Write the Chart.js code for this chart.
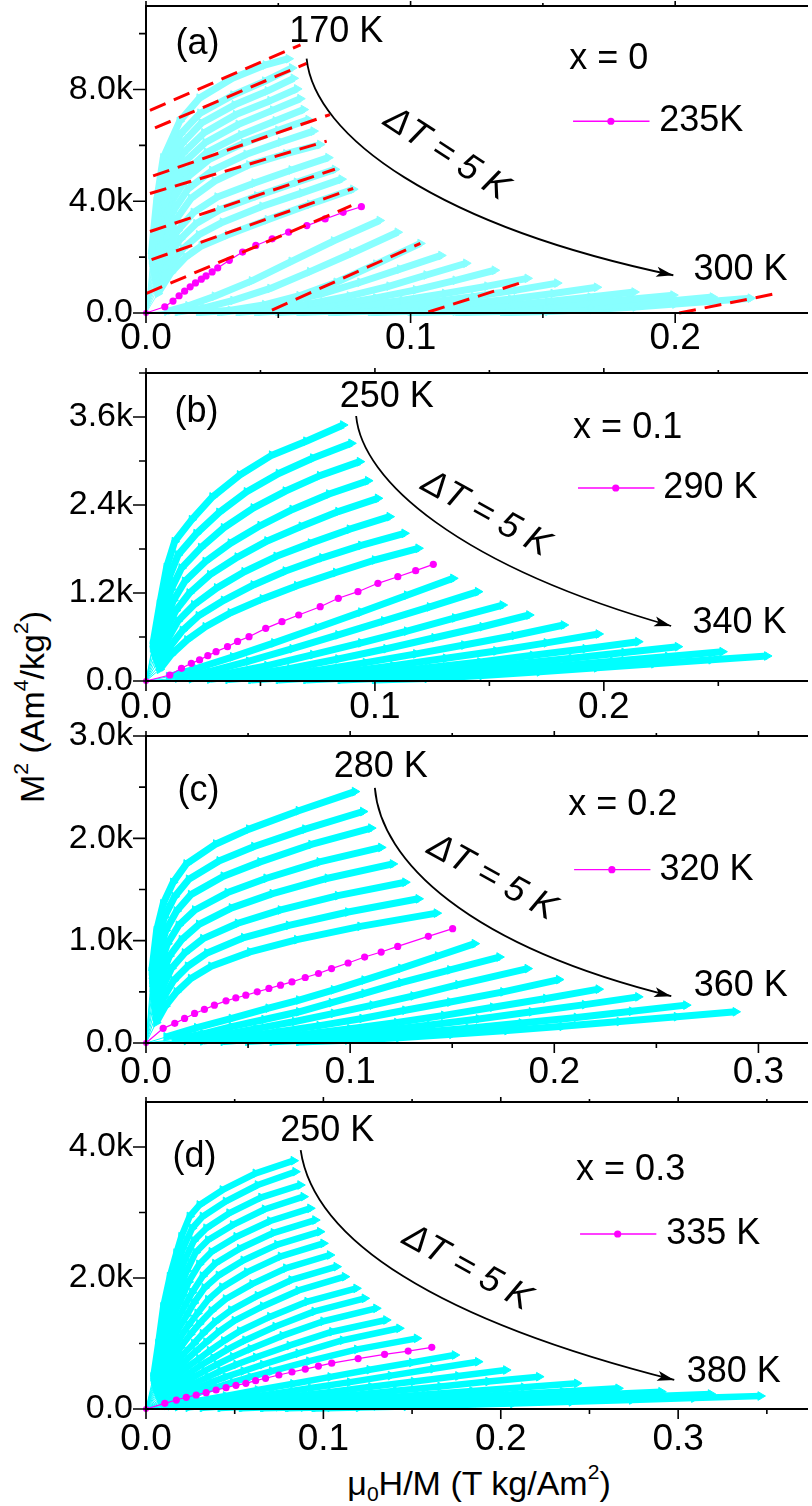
<!DOCTYPE html>
<html>
<head>
<meta charset="utf-8">
<script src="https://cdn.jsdelivr.net/npm/chart.js@4.4.0/dist/chart.umd.min.js"></script>
<style>
html,body{margin:0;padding:0;background:#fff;}
body{width:812px;height:1506px;position:relative;overflow:hidden;font-family:"Liberation Sans",Arial,sans-serif;color:#000;}
canvas{position:absolute;left:0;}
.ytitle{position:absolute;left:32px;top:707px;transform:translate(-50%,-50%) rotate(-90deg);font-size:34px;white-space:nowrap;line-height:1;}
.xtitle{position:absolute;left:479px;top:1483px;transform:translate(-50%,-50%);font-size:34px;white-space:nowrap;line-height:1;}
.ytitle sup,.xtitle sup{font-size:62%;vertical-align:0.75em;line-height:0;}
.xtitle sub{font-size:62%;vertical-align:-0.3em;line-height:0;}
</style>
</head>
<body>
<div class="ytitle">M<sup>2</sup> (Am<sup>4</sup>/kg<sup>2</sup>)</div>
<div class="xtitle">&mu;<sub>0</sub>H/M (T kg/Am<sup>2</sup>)</div>
<script>
const FONT = "'Liberation Sans', Arial, sans-serif";

// ---------------- Panel (a): x = 0 ----------------
const tempsA = [170,175,180,185,190,195,200,205,210,215,220,225,230,235,240,245,250,255,260,265,270,275,280,285,290,295,300];
const highlightA = 235;
const curvesA = [
 [[0,0],[0.0020,2100],[0.0040,4000],[0.0065,5550],[0.0127,6860],[0.0202,7690],[0.0327,8400],[0.0452,8880],[0.0539,9100]],
 [[0,0],[0.0022,1900],[0.0045,3800],[0.0070,5100],[0.0130,6400],[0.0205,7150],[0.0330,7800],[0.0450,8300],[0.0552,8770]],
 [[0,0],[0.0024,1800],[0.0048,3600],[0.0075,4850],[0.0135,6050],[0.0210,6800],[0.0335,7450],[0.0460,7950],[0.0558,8400]],
 [[0,0],[0.0026,1700],[0.0050,3400],[0.0080,4600],[0.0140,5720],[0.0220,6450],[0.0340,7100],[0.0470,7600],[0.0571,8020]],
 [[0,0],[0.0028,1600],[0.0055,3250],[0.0085,4350],[0.0145,5400],[0.0225,6100],[0.0350,6750],[0.0480,7260],[0.0583,7670]],
 [[0,0],[0.0030,1500],[0.0060,3050],[0.0090,4050],[0.0150,5050],[0.0230,5750],[0.0360,6380],[0.0490,6880],[0.0596,7280]],
 [[0,0],[0.0032,1400],[0.0065,2900],[0.0095,3950],[0.0155,4850],[0.0240,5500],[0.0370,6080],[0.0500,6540],[0.0614,6920]],
 [[0,0],[0.0034,1300],[0.0070,2650],[0.0100,3600],[0.0160,4450],[0.0250,5100],[0.0380,5680],[0.0510,6120],[0.0633,6510]],
 [[0,0],[0.0036,1200],[0.0075,2450],[0.0110,3300],[0.0170,4100],[0.0260,4720],[0.0390,5300],[0.0530,5700],[0.0658,6030]],
 [[0,0],[0.0038,1150],[0.0080,2300],[0.0120,2950],[0.0180,3600],[0.0270,4150],[0.0410,4650],[0.0550,5120],[0.0689,5560]],
 [[0,0],[0.0040,1000],[0.0085,2000],[0.0130,2650],[0.0190,3200],[0.0280,3700],[0.0420,4190],[0.0570,4680],[0.0714,5140]],
 [[0,0],[0.0042,850],[0.0090,1700],[0.0140,2300],[0.0200,2800],[0.0290,3250],[0.0440,3820],[0.0590,4300],[0.0739,4790]],
 [[0,0],[0.0045,700],[0.0095,1450],[0.0150,2000],[0.0210,2400],[0.0310,2800],[0.0460,3340],[0.0620,3890],[0.0783,4430]],
 [[0,0],[0.0071,224],[0.0102,427],[0.0125,617],[0.0146,782],[0.0167,936],[0.0187,1078],[0.0209,1209],[0.0227,1327],[0.0250,1470],[0.0271,1612],[0.0315,1884],[0.0365,2180],[0.0415,2418],[0.0477,2655],[0.0539,2891],[0.0608,3129],[0.0677,3366],[0.0745,3602],[0.0814,3804]],
 [[0,0],[0.0080,60],[0.0160,260],[0.0260,600],[0.0400,1150],[0.0550,1850],[0.0710,2580],[0.0883,3310]],
 [[0,0],[0.0120,30],[0.0220,180],[0.0330,450],[0.0470,880],[0.0620,1480],[0.0780,2150],[0.0951,2890]],
 [[0,0],[0.0200,15],[0.0320,100],[0.0450,300],[0.0580,620],[0.0720,1100],[0.0870,1750],[0.1037,2490]],
 [[0,0],[0.0280,20],[0.0400,150],[0.0530,380],[0.0670,700],[0.0810,1100],[0.0960,1570],[0.1116,2060]],
 [[0,0],[0.0350,20],[0.0480,130],[0.0620,330],[0.0770,610],[0.0920,960],[0.1060,1360],[0.1210,1780]],
 [[0,0],[0.0420,15],[0.0560,110],[0.0710,290],[0.0870,540],[0.1020,830],[0.1170,1170],[0.1318,1530]],
 [[0,0],[0.0500,15],[0.0650,95],[0.0810,250],[0.0970,460],[0.1130,700],[0.1290,960],[0.1442,1240]],
 [[0,0],[0.0580,12],[0.0740,80],[0.0910,210],[0.1080,390],[0.1240,590],[0.1400,820],[0.1554,1070]],
 [[0,0],[0.0700,10],[0.0870,70],[0.1040,180],[0.1210,330],[0.1380,500],[0.1540,700],[0.1704,920]],
 [[0,0],[0.0850,10],[0.1020,60],[0.1190,150],[0.1360,270],[0.1520,410],[0.1680,570],[0.1846,750]],
 [[0,0],[0.1000,10],[0.1170,55],[0.1340,130],[0.1510,230],[0.1670,350],[0.1830,490],[0.1993,640]],
 [[0,0],[0.1180,10],[0.1350,55],[0.1520,125],[0.1680,215],[0.1840,320],[0.1990,440],[0.2142,570]],
 [[0,0],[0.1350,10],[0.1520,55],[0.1690,125],[0.1850,215],[0.2000,320],[0.2140,420],[0.2285,530]]
];
// linear high-field fits (x1, y1, x2, y2)
const fitLinesA = [
 [0.0015,7253,0.0584,9600],
 [0.0034,6624,0.0607,8935],
 [0.0027,4907,0.0695,7100],
 [0.0015,4277,0.0683,6151],
 [0.0015,2916,0.0714,5145],
 [0.0021,1909,0.0783,4456],
 [0.0002,700,0.0776,3840],
 [0.0476,107,0.1037,2489],
 [0.1067,36,0.1423,1102],
 [0.2015,0,0.2371,676]
];
const xTicksA = [0,0.1,0.2];           const xLabelsA = ['0.0','0.1','0.2'];
const yTicksA = [0,4000,8000];         const yLabelsA = ['0.0','4.0k','8.0k'];

// ---------------- Panel (b): x = 0.1 ----------------
const tempsB = [250,255,260,265,270,275,280,285,290,295,300,305,310,315,320,325,330,335,340];
const highlightB = 290;
const curvesB = [
 [[0,0],[0.0030,500],[0.0060,1050],[0.0090,1550],[0.0125,1900],[0.0200,2200],[0.0290,2510],[0.0410,2810],[0.0550,3080],[0.0700,3270],[0.0861,3491]],
 [[0,0],[0.0030,450],[0.0065,950],[0.0100,1400],[0.0140,1720],[0.0220,2010],[0.0320,2300],[0.0440,2580],[0.0580,2830],[0.0730,3040],[0.0897,3241]],
 [[0,0],[0.0035,400],[0.0070,850],[0.0110,1250],[0.0155,1540],[0.0240,1820],[0.0340,2090],[0.0470,2360],[0.0610,2590],[0.0760,2800],[0.0934,2991]],
 [[0,0],[0.0040,350],[0.0075,750],[0.0120,1100],[0.0170,1360],[0.0260,1630],[0.0370,1880],[0.0500,2120],[0.0640,2340],[0.0800,2550],[0.0970,2731]],
 [[0,0],[0.0045,300],[0.0080,640],[0.0130,960],[0.0190,1200],[0.0280,1450],[0.0400,1690],[0.0530,1910],[0.0680,2110],[0.0840,2310],[0.1013,2491]],
 [[0,0],[0.0050,250],[0.0090,540],[0.0140,820],[0.0210,1040],[0.0310,1270],[0.0430,1490],[0.0570,1700],[0.0720,1880],[0.0890,2070],[0.1064,2241]],
 [[0,0],[0.0055,200],[0.0100,450],[0.0160,690],[0.0230,890],[0.0340,1100],[0.0470,1310],[0.0610,1500],[0.0770,1680],[0.0940,1850],[0.1129,2014]],
 [[0,0],[0.0060,160],[0.0110,360],[0.0180,560],[0.0260,740],[0.0370,930],[0.0510,1120],[0.0660,1300],[0.0830,1480],[0.1000,1650],[0.1190,1810]],
 [[0,0],[0.0104,82],[0.0155,173],[0.0198,241],[0.0234,288],[0.0270,345],[0.0306,400],[0.0356,468],[0.0400,540],[0.0450,604],[0.0523,718],[0.0594,809],[0.0667,900],[0.0761,1013],[0.0840,1128],[0.0926,1218],[0.1013,1332],[0.1100,1422],[0.1178,1505],[0.1255,1591]],
 [[0,0],[0.0100,60],[0.0220,170],[0.0380,330],[0.0560,520],[0.0750,730],[0.0940,940],[0.1140,1170],[0.1342,1400]],
 [[0,0],[0.0140,40],[0.0280,130],[0.0450,270],[0.0640,440],[0.0840,630],[0.1040,820],[0.1240,1010],[0.1450,1218]],
 [[0,0],[0.0200,30],[0.0350,100],[0.0530,210],[0.0730,360],[0.0940,520],[0.1140,680],[0.1350,860],[0.1558,1036]],
 [[0,0],[0.0280,25],[0.0440,80],[0.0630,170],[0.0840,300],[0.1050,440],[0.1260,590],[0.1470,740],[0.1674,900]],
 [[0,0],[0.0360,20],[0.0540,65],[0.0740,140],[0.0960,250],[0.1180,370],[0.1390,490],[0.1610,620],[0.1825,764]],
 [[0,0],[0.0460,15],[0.0650,55],[0.0860,120],[0.1080,210],[0.1310,310],[0.1530,410],[0.1750,520],[0.1977,641]],
 [[0,0],[0.0580,15],[0.0780,50],[0.1000,105],[0.1230,180],[0.1460,260],[0.1690,350],[0.1920,440],[0.2150,536]],
 [[0,0],[0.0700,15],[0.0910,45],[0.1140,95],[0.1380,160],[0.1620,235],[0.1860,310],[0.2090,390],[0.2323,468]],
 [[0,0],[0.0850,12],[0.1070,40],[0.1310,85],[0.1550,140],[0.1800,205],[0.2040,270],[0.2280,335],[0.2518,400]],
 [[0,0],[0.1000,12],[0.1230,35],[0.1470,75],[0.1720,125],[0.1970,180],[0.2220,235],[0.2470,290],[0.2713,341]]
];
const xTicksB = [0,0.1,0.2];           const xLabelsB = ['0.0','0.1','0.2'];
const yTicksB = [0,1200,2400,3600];    const yLabelsB = ['0.0','1.2k','2.4k','3.6k'];

// ---------------- Panel (c): x = 0.2 ----------------
const tempsC = [280,285,290,295,300,305,310,315,320,325,330,335,340,345,350,355,360];
const highlightC = 320;
const curvesC = [
 [[0,0],[0.0028,700],[0.0052,1100],[0.0084,1360],[0.0133,1570],[0.0198,1750],[0.0343,1945],[0.0505,2090],[0.0748,2270],[0.1023,2457]],
 [[0,0],[0.0030,620],[0.0058,980],[0.0090,1230],[0.0140,1430],[0.0210,1600],[0.0360,1780],[0.0530,1920],[0.0780,2090],[0.1063,2262]],
 [[0,0],[0.0032,540],[0.0062,860],[0.0097,1100],[0.0150,1290],[0.0220,1450],[0.0380,1630],[0.0560,1770],[0.0810,1940],[0.1103,2100]],
 [[0,0],[0.0035,460],[0.0068,750],[0.0105,970],[0.0160,1150],[0.0240,1300],[0.0400,1470],[0.0590,1610],[0.0850,1770],[0.1152,1911]],
 [[0,0],[0.0038,390],[0.0074,640],[0.0115,850],[0.0175,1010],[0.0260,1160],[0.0420,1320],[0.0620,1460],[0.0890,1610],[0.1209,1750]],
 [[0,0],[0.0042,320],[0.0080,540],[0.0125,730],[0.0190,880],[0.0280,1020],[0.0450,1170],[0.0660,1300],[0.0940,1440],[0.1270,1571]],
 [[0,0],[0.0046,260],[0.0088,450],[0.0135,610],[0.0205,750],[0.0300,880],[0.0480,1030],[0.0700,1150],[0.0990,1280],[0.1335,1409]],
 [[0,0],[0.0050,200],[0.0095,360],[0.0150,500],[0.0220,630],[0.0320,750],[0.0510,890],[0.0740,1010],[0.1050,1140],[0.1424,1269]],
 [[0,0],[0.0084,143],[0.0141,192],[0.0189,240],[0.0238,289],[0.0286,328],[0.0335,370],[0.0392,412],[0.0440,440],[0.0489,467],[0.0545,500],[0.0602,533],[0.0659,565],[0.0715,597],[0.0780,640],[0.0845,679],[0.0909,727],[0.0990,782],[0.1071,840],[0.1152,889],[0.1233,944],[0.1383,1042],[0.1502,1117]],
 [[0,0],[0.0100,60],[0.0250,150],[0.0420,240],[0.0600,340],[0.0750,420],[0.0920,520],[0.1070,615],[0.1250,730],[0.1430,850],[0.1610,971]],
 [[0,0],[0.0140,35],[0.0280,90],[0.0420,160],[0.0580,230],[0.0750,305],[0.0910,395],[0.1070,486],[0.1250,590],[0.1490,715],[0.1731,840]],
 [[0,0],[0.0200,25],[0.0360,75],[0.0540,140],[0.0730,210],[0.0920,290],[0.1110,370],[0.1310,460],[0.1530,570],[0.1869,727]],
 [[0,0],[0.0280,20],[0.0460,60],[0.0650,110],[0.0850,170],[0.1060,240],[0.1270,320],[0.1490,400],[0.1750,500],[0.2023,620]],
 [[0,0],[0.0380,15],[0.0570,45],[0.0780,85],[0.1000,140],[0.1230,200],[0.1460,270],[0.1700,350],[0.1960,435],[0.2217,526]],
 [[0,0],[0.0500,15],[0.0700,40],[0.0920,75],[0.1150,120],[0.1390,175],[0.1630,235],[0.1890,305],[0.2150,375],[0.2411,451]],
 [[0,0],[0.0620,12],[0.0840,32],[0.1070,60],[0.1320,100],[0.1580,145],[0.1840,195],[0.2110,250],[0.2380,310],[0.2646,370]],
 [[0,0],[0.0750,10],[0.0990,28],[0.1240,52],[0.1500,85],[0.1770,122],[0.2040,163],[0.2320,210],[0.2600,257],[0.2888,305]]
];
const xTicksC = [0,0.1,0.2,0.3];       const xLabelsC = ['0.0','0.1','0.2','0.3'];
const yTicksC = [0,1000,2000,3000];    const yLabelsC = ['0.0','1.0k','2.0k','3.0k'];

// ---------------- Panel (d): x = 0.3 ----------------
const tempsD = [250,255,260,265,270,275,280,285,290,295,300,305,310,315,320,325,330,335,340,345,350,355,360,365,370,375,380];
const highlightD = 335;
const curvesD = [
 [[0,0],[0.0041,490],[0.0069,1000],[0.0097,1560],[0.0134,2020],[0.0171,2380],[0.0199,2630],[0.0246,2940],[0.0302,3115],[0.0432,3344],[0.0618,3598],[0.0832,3791]],
 [[0,0],[0.0044,450],[0.0073,930],[0.0102,1440],[0.0140,1880],[0.0180,2220],[0.0210,2460],[0.0260,2760],[0.0320,2940],[0.0450,3170],[0.0630,3420],[0.0842,3623]],
 [[0,0],[0.0047,420],[0.0077,860],[0.0107,1330],[0.0146,1740],[0.0190,2060],[0.0220,2280],[0.0270,2570],[0.0340,2760],[0.0470,2990],[0.0650,3230],[0.0870,3420]],
 [[0,0],[0.0050,390],[0.0080,790],[0.0112,1220],[0.0152,1600],[0.0200,1900],[0.0230,2110],[0.0280,2390],[0.0350,2580],[0.0490,2810],[0.0670,3050],[0.0888,3242]],
 [[0,0],[0.0053,360],[0.0085,720],[0.0118,1110],[0.0160,1460],[0.0210,1740],[0.0240,1940],[0.0300,2210],[0.0370,2400],[0.0510,2630],[0.0700,2870],[0.0926,3064]],
 [[0,0],[0.0056,330],[0.0090,650],[0.0124,1000],[0.0168,1320],[0.0220,1580],[0.0260,1780],[0.0320,2030],[0.0390,2220],[0.0530,2450],[0.0720,2690],[0.0954,2885]],
 [[0,0],[0.0060,300],[0.0095,590],[0.0130,900],[0.0176,1190],[0.0230,1430],[0.0270,1620],[0.0330,1850],[0.0410,2040],[0.0550,2270],[0.0740,2510],[0.0981,2707]],
 [[0,0],[0.0064,270],[0.0100,530],[0.0137,800],[0.0185,1060],[0.0240,1280],[0.0290,1460],[0.0350,1670],[0.0430,1860],[0.0570,2090],[0.0760,2330],[0.1000,2529]],
 [[0,0],[0.0068,240],[0.0106,470],[0.0145,710],[0.0195,940],[0.0250,1140],[0.0300,1300],[0.0370,1500],[0.0450,1680],[0.0600,1910],[0.0790,2150],[0.1037,2351]],
 [[0,0],[0.0072,210],[0.0112,410],[0.0153,620],[0.0205,820],[0.0270,1000],[0.0320,1150],[0.0390,1330],[0.0480,1510],[0.0630,1730],[0.0820,1970],[0.1074,2173]],
 [[0,0],[0.0077,180],[0.0118,360],[0.0162,540],[0.0216,720],[0.0280,880],[0.0340,1020],[0.0410,1180],[0.0500,1350],[0.0660,1570],[0.0860,1810],[0.1121,2020]],
 [[0,0],[0.0082,150],[0.0125,310],[0.0170,470],[0.0228,630],[0.0300,770],[0.0360,890],[0.0440,1040],[0.0530,1190],[0.0700,1410],[0.0910,1640],[0.1186,1842]],
 [[0,0],[0.0088,130],[0.0132,260],[0.0180,400],[0.0240,540],[0.0310,670],[0.0380,780],[0.0460,910],[0.0560,1050],[0.0730,1260],[0.0950,1490],[0.1233,1690]],
 [[0,0],[0.0094,110],[0.0140,220],[0.0190,340],[0.0250,460],[0.0330,580],[0.0400,680],[0.0490,800],[0.0590,920],[0.0770,1120],[0.1000,1340],[0.1298,1537]],
 [[0,0],[0.0100,90],[0.0150,180],[0.0200,280],[0.0270,390],[0.0350,490],[0.0420,580],[0.0510,680],[0.0620,790],[0.0810,970],[0.1050,1180],[0.1354,1359]],
 [[0,0],[0.0110,70],[0.0160,145],[0.0220,230],[0.0290,320],[0.0370,410],[0.0450,490],[0.0550,580],[0.0660,680],[0.0860,850],[0.1110,1050],[0.1428,1232]],
 [[0,0],[0.0120,55],[0.0180,115],[0.0240,185],[0.0310,260],[0.0400,335],[0.0490,410],[0.0590,490],[0.0710,580],[0.0920,730],[0.1190,910],[0.1527,1079]],
 [[0,0],[0.0106,87],[0.0171,137],[0.0227,179],[0.0283,214],[0.0339,249],[0.0395,290],[0.0451,325],[0.0507,362],[0.0563,392],[0.0618,432],[0.0674,469],[0.0749,519],[0.0823,565],[0.0898,610],[0.0972,655],[0.1047,700],[0.1196,770],[0.1345,835],[0.1478,885],[0.1611,941]],
 [[0,0],[0.0140,50],[0.0280,120],[0.0450,200],[0.0630,290],[0.0830,385],[0.1040,490],[0.1260,600],[0.1500,710],[0.1741,824]],
 [[0,0],[0.0180,35],[0.0340,90],[0.0520,160],[0.0720,235],[0.0930,320],[0.1150,410],[0.1380,510],[0.1620,615],[0.1872,722]],
 [[0,0],[0.0240,25],[0.0420,70],[0.0610,125],[0.0820,190],[0.1040,260],[0.1270,340],[0.1510,420],[0.1760,505],[0.2030,595]],
 [[0,0],[0.0320,20],[0.0510,55],[0.0720,100],[0.0940,155],[0.1170,215],[0.1410,280],[0.1660,345],[0.1930,420],[0.2216,493]],
 [[0,0],[0.0420,15],[0.0620,42],[0.0840,78],[0.1070,120],[0.1310,168],[0.1570,220],[0.1840,275],[0.2130,332],[0.2430,392]],
 [[0,0],[0.0540,12],[0.0750,34],[0.0980,62],[0.1220,96],[0.1480,135],[0.1750,178],[0.2040,222],[0.2350,268],[0.2663,316]],
 [[0,0],[0.0660,10],[0.0890,28],[0.1130,52],[0.1390,80],[0.1660,112],[0.1950,148],[0.2260,186],[0.2580,225],[0.2905,264]],
 [[0,0],[0.0800,10],[0.1040,25],[0.1300,45],[0.1580,70],[0.1870,98],[0.2180,128],[0.2510,160],[0.2840,194],[0.3184,229]],
 [[0,0],[0.0950,8],[0.1200,22],[0.1470,40],[0.1760,60],[0.2070,84],[0.2400,110],[0.2740,138],[0.3090,167],[0.3464,198]]
];
const xTicksD = [0,0.1,0.2,0.3];       const xLabelsD = ['0.0','0.1','0.2','0.3'];
const yTicksD = [0,2000,4000];         const yLabelsD = ['0.0','2.0k','4.0k'];

// ---------------- layout / annotation settings ----------------
const panels = [
 {top:0, height:360, padTop:4, xAxisH:47, labelPad:4, xMax:0.24944, yMax:10987, xMinor:0.05, yMinor:2000,
  temps:tempsA, curves:curvesA, highlight:highlightA, fits:fitLinesA, cyan:'#88ffff', band:7,
  xTicks:xTicksA, xLabels:xLabelsA, yTicks:yTicksA, yLabels:yLabelsA,
  ann:{tag:['(a)',0.0195,9636], tLow:['170 K',0.0719,10062], tHigh:['300 K',0.2247,1529], comp:['x = 0',0.1749,9102],
       legend:{x1:0.1614,x2:0.1903,y:6862,dot:0.1757,tx:0.1940,text:'235K'},
       dT:{x:0.1135,y:5689,angle:33},
       arrow:[[0.0607,9102],[0.0637,6329],[0.1101,3129],[0.1993,1351]]}},
 {top:355, height:375, padTop:18, xAxisH:49, labelPad:5, xMax:0.28831, yMax:4200, xMinor:0.05, yMinor:600,
  temps:tempsB, curves:curvesB, highlight:highlightB, fits:[], cyan:'#00ffff', band:7,
  xTicks:xTicksB, xLabels:xLabelsB, yTicks:yTicksB, yLabels:yLabelsB,
  ann:{tag:['(b)',0.0221,3668], tLow:['250 K',0.1052,3873], tHigh:['340 K',0.2593,791], comp:['x = 0.1',0.2104,3450],
       legend:{x1:0.1887,x2:0.2221,y:2632,dot:0.2052,tx:0.2260,text:'290 K'},
       dT:{x:0.1485,y:2277,angle:29},
       arrow:[[0.0918,3614],[0.0944,2741],[0.1359,1582],[0.2294,750]]}},
 {top:715, height:375, padTop:21, xAxisH:47, labelPad:8, xMax:0.32330, yMax:3000, xMinor:0.05, yMinor:500,
  temps:tempsC, curves:curvesC, highlight:highlightC, fits:[], cyan:'#00ffff', band:7,
  xTicks:xTicksC, xLabels:xLabelsC, yTicks:yTicksC, yLabels:yLabelsC,
  ann:{tag:['(c)',0.0257,2464], tLow:['280 K',0.1150,2697], tHigh:['360 K',0.2913,555], comp:['x = 0.2',0.2335,2327],
       legend:{x1:0.2097,x2:0.2471,y:1694,dot:0.2282,tx:0.2515,text:'320 K'},
       dT:{x:0.1694,y:1616,angle:29},
       arrow:[[0.1121,2493],[0.1150,1782],[0.1573,954],[0.2573,458]]}},
 {top:1085, height:421, padTop:17, xAxisH:97, labelPad:9, xMax:0.37207, yMax:4687, xMinor:0.05, yMinor:1000,
  temps:tempsD, curves:curvesD, highlight:highlightD, fits:[], cyan:'#00ffff', band:6.5,
  xTicks:xTicksD, xLabels:xLabelsD, yTicks:yTicksD, yLabels:yLabelsD,
  ann:{tag:['(d)',0.0274,3847], tLow:['250 K',0.1022,4244], tHigh:['380 K',0.3313,565], comp:['x = 0.3',0.2732,3649],
       legend:{x1:0.2447,x2:0.2877,y:2672,dot:0.2659,tx:0.2933,text:'335 K'},
       dT:{x:0.1810,y:2153,angle:29},
       arrow:[[0.0872,3954],[0.0944,2580],[0.1642,1359],[0.2978,443]]}}
];

function drawDecor(c, p) {
  const ctx = c.ctx, xs = c.scales.x, ys = c.scales.y, a = c.chartArea;
  const X = v => xs.getPixelForValue(v), Y = v => ys.getPixelForValue(v);
  ctx.save();
  // frame
  ctx.strokeStyle = '#000'; ctx.lineWidth = 2;
  ctx.beginPath();
  ctx.moveTo(a.left - 1, a.top); ctx.lineTo(a.right + 2, a.top);
  ctx.moveTo(a.left, a.top); ctx.lineTo(a.left, a.bottom + 1);
  ctx.moveTo(a.left - 1, a.bottom); ctx.lineTo(a.right + 2, a.bottom);
  ctx.stroke();
  // ticks
  ctx.lineWidth = 1.6; ctx.beginPath();
  for (let k = 0; k * p.xMinor <= p.xMax + 1e-9; k++) {
    const px = X(k * p.xMinor), major = k % 2 === 0;
    ctx.moveTo(px, a.bottom); ctx.lineTo(px, a.bottom + (major ? 10 : 5));
    ctx.moveTo(px, a.top); ctx.lineTo(px, a.top - (major ? 5 : 3));
  }
  for (let k = 0; k * p.yMinor <= p.yMax + 1e-9; k++) {
    const py = Y(k * p.yMinor), major = k % 2 === 0;
    ctx.moveTo(a.left, py); ctx.lineTo(a.left - (major ? 13 : 7), py);
  }
  ctx.stroke();
  // texts
  const A = p.ann;
  ctx.fillStyle = '#000'; ctx.textBaseline = 'middle'; ctx.textAlign = 'center';
  ctx.font = '36px ' + FONT;
  [A.tag, A.tLow, A.tHigh, A.comp].forEach(t => ctx.fillText(t[0], X(t[1]), Y(t[2])));
  // legend
  const L = A.legend;
  ctx.strokeStyle = '#ff00ff'; ctx.lineWidth = 1.3;
  ctx.beginPath(); ctx.moveTo(X(L.x1), Y(L.y)); ctx.lineTo(X(L.x2), Y(L.y)); ctx.stroke();
  ctx.fillStyle = '#ff00ff';
  ctx.beginPath(); ctx.arc(X(L.dot), Y(L.y), 3.6, 0, Math.PI * 2); ctx.fill();
  ctx.fillStyle = '#000'; ctx.textAlign = 'left';
  ctx.fillText(L.text, X(L.tx), Y(L.y));
  // delta T
  const d = A.dT;
  ctx.save();
  ctx.translate(X(d.x), Y(d.y)); ctx.rotate(d.angle * Math.PI / 180);
  ctx.font = 'italic 36px ' + FONT; ctx.textAlign = 'center';
  ctx.fillText('\u0394T = 5 K', 0, 0);
  ctx.restore();
  // arrow
  const P = A.arrow.map(q => [X(q[0]), Y(q[1])]);
  ctx.strokeStyle = '#000'; ctx.lineWidth = 1.8;
  ctx.beginPath(); ctx.moveTo(P[0][0], P[0][1]);
  ctx.bezierCurveTo(P[1][0], P[1][1], P[2][0], P[2][1], P[3][0], P[3][1]);
  ctx.stroke();
  const ang = Math.atan2(P[3][1] - P[2][1], P[3][0] - P[2][0]);
  const hl = 17, hw = 5;
  const bx = P[3][0] - hl * Math.cos(ang), by = P[3][1] - hl * Math.sin(ang);
  ctx.fillStyle = '#000';
  ctx.beginPath();
  ctx.moveTo(P[3][0], P[3][1]);
  ctx.lineTo(bx - hw * Math.sin(ang), by + hw * Math.cos(ang));
  ctx.lineTo(bx + 4 * Math.cos(ang), by + 4 * Math.sin(ang));
  ctx.lineTo(bx + hw * Math.sin(ang), by - hw * Math.cos(ang));
  ctx.closePath(); ctx.fill();
  ctx.restore();
}

function makeChart(p) {
  const cv = document.createElement('canvas');
  cv.width = 812; cv.height = p.height;
  cv.style.top = p.top + 'px'; cv.style.width = '812px'; cv.style.height = p.height + 'px';
  document.body.appendChild(cv);
  const datasets = [];
  p.fits.forEach(f => datasets.push({
    data: [{x: f[0], y: f[1]}, {x: f[2], y: f[3]}], showLine: true,
    borderColor: '#ff0000', borderWidth: 3, borderDash: [17, 9], borderCapStyle: 'butt',
    pointRadius: 0, order: -1, clip: 6
  }));
  p.temps.forEach((T, i) => {
    const pts = p.curves[i].map(q => ({x: q[0], y: q[1]}));
    if (T === p.highlight) {
      datasets.push({
        label: T + ' K', data: pts, showLine: true, order: 0,
        borderColor: '#ff00ff', borderWidth: 1.2, pointStyle: 'circle',
        pointRadius: ctx => ctx.dataIndex === 0 ? 3 : 3.6,
        pointBackgroundColor: '#ff00ff', pointBorderColor: '#ff00ff', pointBorderWidth: 0,
        clip: {left: 6, top: 6, right: 6, bottom: 3}
      });
    } else {
      datasets.push({
        label: T + ' K', data: pts, showLine: true, order: 1,
        borderColor: p.cyan, borderWidth: p.band, borderJoinStyle: 'round', borderCapStyle: 'butt',
        segment: {borderWidth: ctx => ctx.p0DataIndex === 0 ? 1 : p.band},
        pointStyle: 'triangle', rotation: 90,
        pointRadius: ctx => ctx.dataIndex === 0 ? 0 : 5,
        pointBackgroundColor: p.cyan, pointBorderColor: p.cyan, pointBorderWidth: 1,
        clip: {left: 6, top: 6, right: 6, bottom: 3}
      });
    }
  });
  new Chart(cv, {
    type: 'scatter',
    data: {datasets},
    options: {
      responsive: false, animation: false, devicePixelRatio: 1, events: [],
      layout: {padding: {top: p.padTop, right: 0, bottom: 0, left: 0}},
      plugins: {legend: {display: false}, tooltip: {enabled: false}, title: {display: false}},
      scales: {
        x: {
          type: 'linear', position: 'bottom', min: 0, max: p.xMax,
          afterBuildTicks: s => { s.ticks = p.xTicks.map(v => ({value: v})); },
          afterFit: s => { s.height = p.xAxisH; s.paddingLeft = 0; s.paddingRight = 0; },
          grid: {display: false, drawTicks: false}, border: {display: false},
          ticks: {autoSkip: false, maxRotation: 0, minRotation: 0, padding: p.labelPad, color: '#000',
                  font: {family: FONT, size: 37}, callback: (v, i) => p.xLabels[i]}
        },
        y: {
          type: 'linear', position: 'left', min: 0, max: p.yMax,
          afterBuildTicks: s => { s.ticks = p.yTicks.map(v => ({value: v})); },
          afterFit: s => { s.width = 146; s.paddingTop = 0; s.paddingBottom = 0; },
          grid: {display: false, drawTicks: false}, border: {display: false},
          ticks: {autoSkip: false, padding: 13, color: '#000',
                  font: {family: FONT, size: 34}, callback: (v, i) => p.yLabels[i]}
        }
      }
    },
    plugins: [{id: 'decor', afterDraw: c => drawDecor(c, p)}]
  });
}

panels.forEach(makeChart);
</script>
</body>
</html>
